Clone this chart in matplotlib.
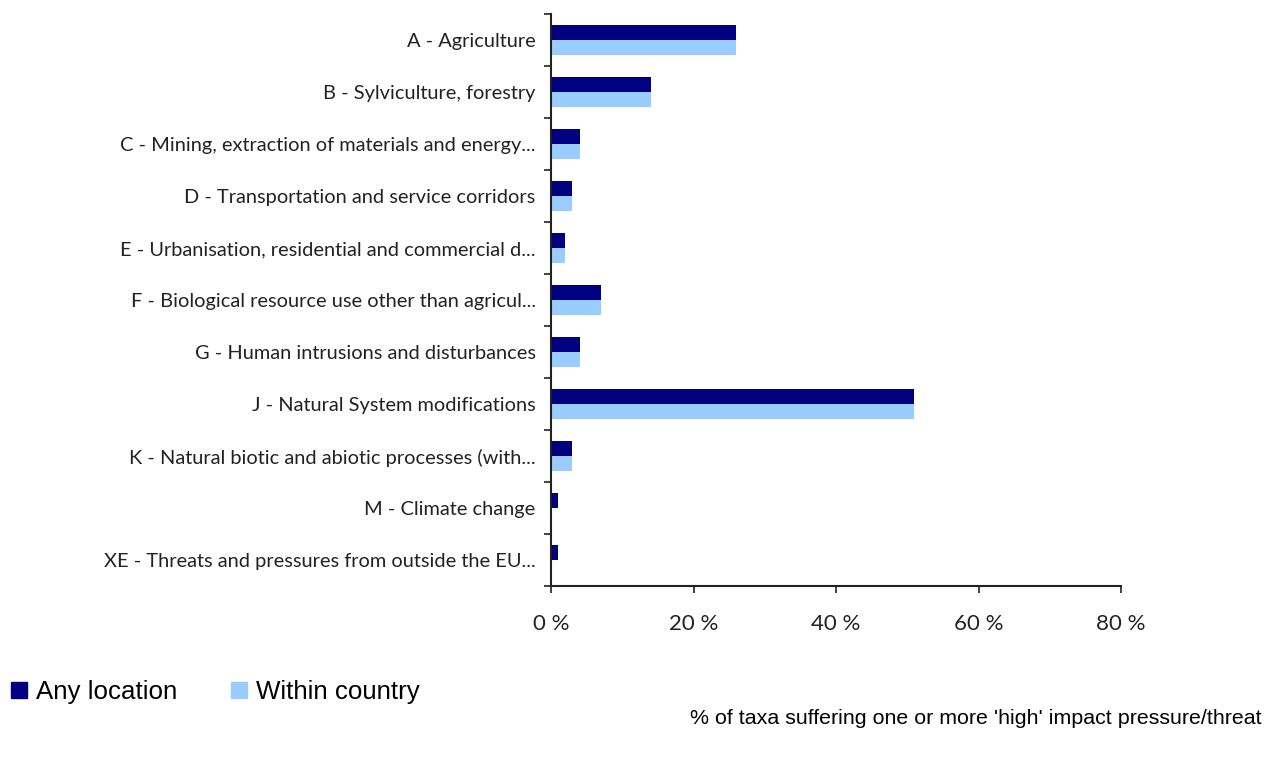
import numpy as np
from matplotlib import pyplot as plt
from matplotlib.lines import Line2D

categories = [
    "A - Agriculture",
    "B - Sylviculture, forestry",
    "C - Mining, extraction of materials and energy...",
    "D - Transportation and service corridors",
    "E - Urbanisation, residential and commercial d...",
    "F - Biological resource use other than agricul...",
    "G - Human intrusions and disturbances",
    "J - Natural System modifications",
    "K - Natural biotic and abiotic processes (with...",
    "M - Climate change",
    "XE - Threats and pressures from outside the EU...",
]
any_location = [26, 14, 4, 3, 2, 7, 4, 51, 3, 1, 1]
within_country = [26, 14, 4, 3, 2, 7, 4, 51, 3, 0, 0]
x_ticks = [0, 20, 40, 60, 80]

dark = "#000080"
light = "#99ccff"
label_font = "Lato"

fig = plt.figure(figsize=(12.65, 7.6), dpi=100)
ax = fig.add_axes([551 / 1265, 1 - 586 / 760, (1121 - 551) / 1265, (586 - 14) / 760])

y = np.arange(len(categories))
h = 0.28
ax.barh(y - h / 2, any_location, height=h, color=dark, edgecolor="none")
ax.barh(y + h / 2, within_country, height=h, color=light, edgecolor="none")

ax.set_ylim(len(categories) - 0.5, -0.5)
ax.set_xlim(0, 80)

ax.set_yticks(y)
ax.set_yticklabels(categories, fontsize=14.4, family=label_font, color="#222222")
ax.set_yticks(np.arange(len(categories) + 1) - 0.5, minor=True)
ax.tick_params(axis="y", which="major", length=0, pad=11)
ax.tick_params(axis="y", which="minor", length=5, width=1.2, color="#222222")

ax.set_xticks(x_ticks)
ax.set_xticklabels([f"{v} %" for v in x_ticks], fontsize=16, family=label_font, color="#222222")
ax.tick_params(axis="x", length=5, width=1.2, color="#222222", pad=15)

for s in ["top", "right"]:
    ax.spines[s].set_visible(False)
for s in ["left", "bottom"]:
    ax.spines[s].set_linewidth(1.5)
    ax.spines[s].set_color("#222222")

handles = [
    Line2D([], [], marker="s", linestyle="none", markersize=11, color=dark),
    Line2D([], [], marker="s", linestyle="none", markersize=11, color=light),
]
fig.legend(handles, ["Any location", "Within country"], loc="center left",
           bbox_to_anchor=(-0.0125, 1 - 692 / 760), ncol=2, frameon=False,
           prop={"family": "Liberation Sans", "size": 18.6},
           handletextpad=0.2, columnspacing=1.95, handlelength=0.9)

fig.text(1262 / 1265, 1 - 719 / 760,
         "% of taxa suffering one or more 'high' impact pressure/threat",
         ha="right", va="center", fontsize=15.4, family="Liberation Sans", color="black")

fig.savefig("out.png", dpi=100)
